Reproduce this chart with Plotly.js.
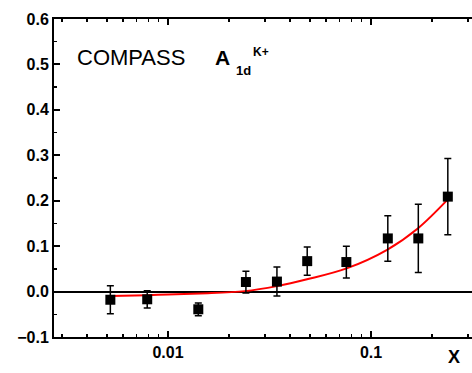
<!DOCTYPE html>
<html>
<head>
<meta charset="utf-8">
<script src="https://cdn.plot.ly/plotly-3.0.1.min.js"></script>
<style>html,body{margin:0;padding:0;background:#fff;}#chart{width:472px;height:373px;}</style>
</head>
<body>
<div id="chart"></div>
<script>
// Data points (COMPASS A1d K+)
var xData = [0.0052, 0.0079, 0.0141, 0.0242, 0.0344, 0.0485, 0.0756, 0.121, 0.171, 0.239];
var yData = [-0.018, -0.017, -0.039, 0.021, 0.022, 0.067, 0.065, 0.117, 0.117, 0.209];
var yErr  = [0.031, 0.019, 0.014, 0.024, 0.032, 0.031, 0.035, 0.050, 0.075, 0.084];

// Fit curve
var xFit = [0.0052, 0.0079, 0.010, 0.0144, 0.0239, 0.0344, 0.0484, 0.0758, 0.120, 0.170, 0.239];
var yFit = [-0.010, -0.008, -0.0065, -0.004, 0.001, 0.012, 0.027, 0.051, 0.092, 0.139, 0.203];

var xTickVals = [0.01, 0.1];
var xTickText = ['0.01', '0.1'];
var xMinorVals = [0.003,0.004,0.005,0.006,0.007,0.008,0.009,0.02,0.03,0.04,0.05,0.06,0.07,0.08,0.09,0.2,0.3];

var W = 472, H = 373, L = 54, R = 0, T = 19, B = 36;
function px(x){ return (x - L) / (W - L - R); }
function py(y){ return (H - B - y) / (H - T - B); }

var FAM = 'Liberation Sans, Arial, sans-serif';
var tickFont = {family: FAM, size: 16, color: '#000', weight: 'bold'};

var traces = [
  {
    x: xFit, y: yFit, mode: 'lines', type: 'scatter',
    line: {color: '#ff0000', width: 2, shape: 'spline'},
    hoverinfo: 'skip', showlegend: false
  },
  {
    x: xData, y: yData, mode: 'markers', type: 'scatter',
    marker: {symbol: 'square', size: 10, color: '#000'},
    error_y: {type: 'data', array: yErr, visible: true, color: '#000', thickness: 1.5, width: 3.5},
    showlegend: false
  }
];

var layout = {
  width: W, height: H,
  margin: {l: L, r: R, t: T, b: B},
  paper_bgcolor: '#fff', plot_bgcolor: '#fff',
  xaxis: {
    type: 'log',
    range: [-2.5616, -0.5025],
    showgrid: false, zeroline: false,
    showline: true, linecolor: '#000', linewidth: 2, mirror: 'allticks',
    ticks: 'inside', ticklen: 6, tickwidth: 2, tickcolor: '#000',
    tickmode: 'array', tickvals: xTickVals, ticktext: xTickText,
    tickfont: tickFont,
    minor: {tickmode: 'array', tickvals: xMinorVals, ticks: 'inside', ticklen: 3, tickwidth: 1.5, tickcolor: '#000', showgrid: false}
  },
  yaxis: {
    range: [-0.1, 0.6],
    showgrid: false,
    zeroline: true, zerolinecolor: '#000', zerolinewidth: 2,
    showline: true, linecolor: '#000', linewidth: 2, mirror: false,
    ticks: 'inside', ticklen: 6, tickwidth: 2, tickcolor: '#000',
    dtick: 0.1, tick0: 0, tickformat: '.1f',
    tickfont: tickFont,
    minor: {dtick: 0.05, ticks: 'inside', ticklen: 3, tickwidth: 1.5, tickcolor: '#000', showgrid: false}
  },
  annotations: [
    {xref: 'paper', yref: 'paper', x: px(75), y: py(58), xanchor: 'left', yanchor: 'middle', showarrow: false,
     text: 'COMPASS', font: {family: FAM, size: 22, color: '#000'}},
    {xref: 'paper', yref: 'paper', x: px(213), y: py(58), xanchor: 'left', yanchor: 'middle', showarrow: false,
     text: '<b>A</b>', font: {family: FAM, size: 21, color: '#000'}},
    {xref: 'paper', yref: 'paper', x: px(234), y: py(71), xanchor: 'left', yanchor: 'middle', showarrow: false,
     text: '<b>1d</b>', font: {family: FAM, size: 13, color: '#000'}},
    {xref: 'paper', yref: 'paper', x: px(251), y: py(52), xanchor: 'left', yanchor: 'middle', showarrow: false,
     text: '<b>K+</b>', font: {family: FAM, size: 12, color: '#000'}},
    {xref: 'paper', yref: 'paper', x: px(454), y: py(357), xanchor: 'center', yanchor: 'middle', showarrow: false,
     text: '<b>X</b>', font: {family: FAM, size: 18, color: '#000'}}
  ]
};

Plotly.newPlot('chart', traces, layout, {displayModeBar: false, staticPlot: true});
</script>
</body>
</html>
